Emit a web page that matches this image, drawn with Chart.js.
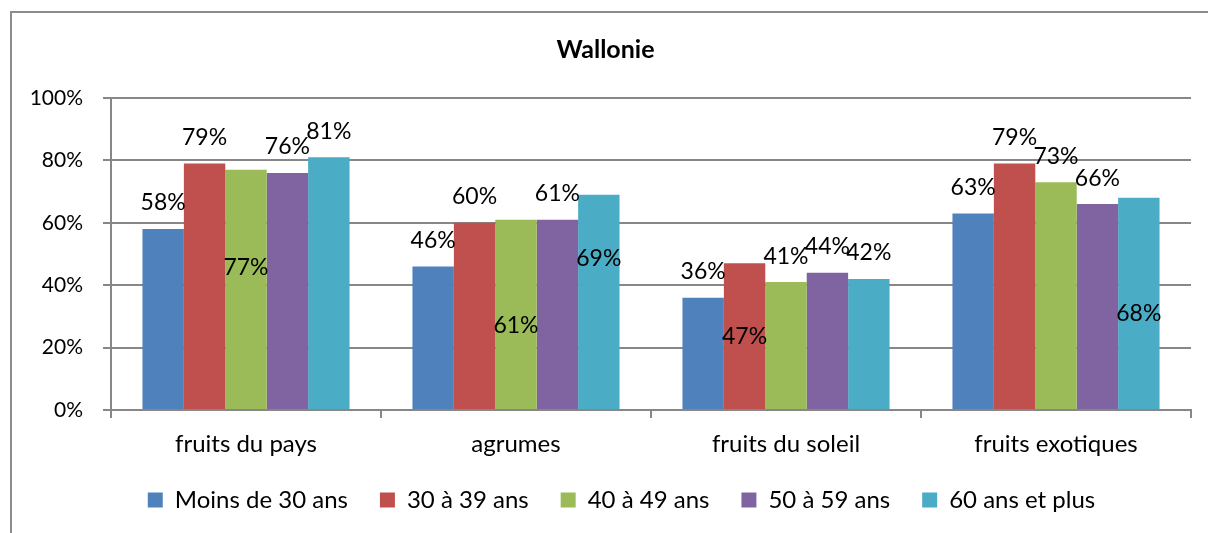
<!DOCTYPE html>
<html>
<head>
<meta charset="utf-8">
<script src="https://cdn.jsdelivr.net/npm/chart.js@4"></script>
<style>
  body { margin: 0; background: #fff; }
  #frame { position: absolute; left: 10px; top: 11px; width: 1240px; height: 560px; border: 2px solid #8c8c8c; }
  #c { position: absolute; left: 0; top: 0; }
</style>
</head>
<body>
<div id="frame"></div>
<canvas id="c" width="1208" height="533"></canvas>
<script>
const categories = ['fruits du pays', 'agrumes', 'fruits du soleil', 'fruits exotiques']
const ageGroups = ['Moins de 30 ans', '30 à 39 ans', '40 à 49 ans', '50 à 59 ans', '60 ans et plus']

const moins30 = [58, 46, 36, 63]
const de30a39 = [79, 60, 47, 79]
const de40a49 = [77, 61, 41, 73]
const de50a59 = [76, 61, 44, 66]
const plus60 = [81, 69, 42, 68]

const yTicks = [0, 20, 40, 60, 80, 100]

const colors = ['#4f81bd', '#c0504d', '#9bbb59', '#8064a2', '#4bacc6']

// where a value label sits inside its bar (fraction down from the top), null = above the bar
const insideLabel = [
    [null, null, null, null],
    [null, null, 0.5, null],
    [0.41, 0.56, null, null],
    [null, null, null, null],
    [null, 0.3, null, 0.55]
]

const series = [moins30, de30a39, de40a49, de50a59, plus60]

const valueLabels = {
    id: 'valueLabels',
    afterDatasetsDraw(chart) {
        const ctx = chart.ctx
        ctx.save()
        ctx.font = '23px Lato'
        ctx.fillStyle = '#000'
        ctx.textAlign = 'center'
        ctx.textBaseline = 'middle'
        chart.data.datasets.forEach((ds, i) => {
            chart.getDatasetMeta(i).data.forEach((bar, j) => {
                const f = insideLabel[i][j]
                const y = f === null ? bar.y - 26 : bar.y + f * (bar.base - bar.y)
                ctx.fillText(ds.data[j] + '%', bar.x, y)
            })
        })
        ctx.restore()
    }
}

// move the legend row under the plot and pull it a little closer to the axis labels
const legendShift = {
    id: 'legendShift',
    afterLayout(chart) {
        const lg = chart.legend
        lg.left += 16
        lg.right += 16
        lg.top -= 6
        lg.bottom -= 6
    }
}

const gridColor = '#878787'

new Chart(document.getElementById('c').getContext('2d'), {
    type: 'bar',
    data: {
        labels: categories,
        datasets: series.map((values, i) => ({
            label: ageGroups[i],
            data: values,
            backgroundColor: colors[i],
            borderWidth: 0,
            categoryPercentage: 0.767,
            barPercentage: 1
        }))
    },
    options: {
        responsive: false,
        animation: false,
        layout: { padding: { left: 20, right: 17, top: 0, bottom: 6 } },
        scales: {
            x: {
                grid: { display: true, drawOnChartArea: false, color: gridColor, lineWidth: 2, tickLength: 8, offset: true },
                border: { color: gridColor, width: 2 },
                ticks: { font: { family: 'Lato', size: 24 }, color: '#000', padding: 12 },
                afterFit(scale) { scale.height = 52 }
            },
            y: {
                min: 0,
                max: 100,
                afterBuildTicks(scale) { scale.ticks = yTicks.map(v => ({ value: v })) },
                grid: { color: gridColor, lineWidth: 2, tickLength: 8 },
                border: { color: gridColor, width: 2 },
                ticks: { font: { family: 'Lato', size: 21 }, color: '#000', padding: 20, callback: v => v + '%' },
                afterFit(scale) { scale.width = 91 }
            }
        },
        plugins: {
            title: {
                display: true,
                text: 'Wallonie',
                color: '#000',
                font: { family: 'Lato', size: 25, weight: 'bold' },
                padding: { top: 35, bottom: 33 }
            },
            legend: {
                position: 'bottom',
                maxHeight: 65,
                labels: {
                    font: { family: 'Lato', size: 24 },
                    color: '#000',
                    boxWidth: 15,
                    boxHeight: 15,
                    padding: 32
                }
            },
            tooltip: { enabled: false }
        }
    },
    plugins: [valueLabels, legendShift]
})
</script>
</body>
</html>
